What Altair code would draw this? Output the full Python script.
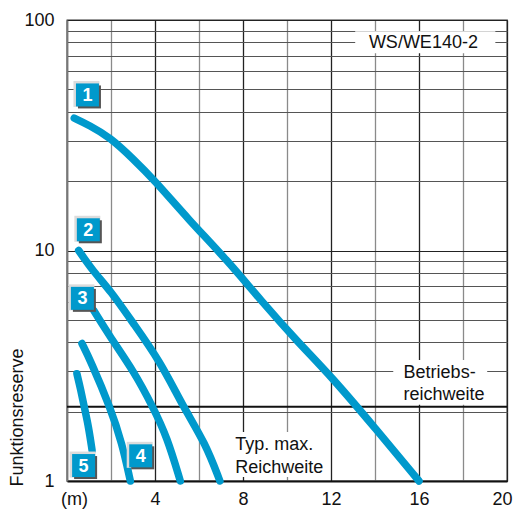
import altair as alt
import pandas as pd

# ---- curve data (x in m, y = Funktionsreserve) ----
c1_x = [0.33, 1.0, 1.95, 3.0, 3.97, 5.5, 7.29, 8.79, 10.5, 12.0, 14.0, 16.0]
c1_y = [37.5, 35.0, 31.0, 25.0, 20.2, 13.7, 9.06, 6.1, 4.0, 2.85, 1.7, 1.0]
c2_x = [0.53, 1.2, 1.97, 3.0, 4.24, 5.3, 6.29, 6.95]
c2_y = [10.0, 8.1, 6.7, 4.85, 3.3, 2.08, 1.46, 1.0]
c3_x = [1.21, 1.97, 3.03, 3.9, 4.55, 5.15]
c3_y = [5.5, 4.2, 3.0, 2.1, 1.55, 1.0]
c4_x = [0.68, 1.06, 1.97, 2.5, 2.88]
c4_y = [3.95, 3.34, 2.08, 1.46, 1.0]
c5_x = [0.45, 0.62, 0.79, 0.98, 1.14]
c5_y = [2.92, 2.5, 2.08, 1.72, 1.36]

badge_ids = ["1", "2", "3", "4", "5"]
badge_x = [0.93, 0.97, 0.70, 3.35, 0.755]
badge_y = [47.3, 12.3, 6.2, 1.286, 1.167]

x_ticks = [0, 2, 4, 6, 8, 10, 12, 14, 16, 18, 20]
y_ticks = [1, 2, 3, 4, 5, 6, 7, 8, 9, 10, 20, 30, 40, 50, 60, 70, 80, 90, 100]

operating_level = [2.1]

label_texts = ["WS/WE140-2", "Betriebs-", "reichweite", "Typ. max.", "Reichweite"]
label_x = [16.2, 15.3, 15.3, 7.65, 7.65]
label_y = [79.2, 2.94, 2.36, 1.43, 1.14]
label_align = ["center", "left", "left", "left", "left"]

box_x1 = [13.1, 14.83, 7.52]
box_x2 = [19.47, 19.1, 11.74]
box_y1 = [89.4, 3.35, 1.63]
box_y2 = [71.7, 2.14, 1.04]

BLUE = "#0099cc"
FONT = "Liberation Sans"

rows = []
for cid, xs, ys in [("1", c1_x, c1_y), ("2", c2_x, c2_y), ("3", c3_x, c3_y),
                    ("4", c4_x, c4_y), ("5", c5_x, c5_y)]:
    for i, (a, b) in enumerate(zip(xs, ys)):
        rows.append({"curve": cid, "x": a, "y": b, "ord": i})
curves = pd.DataFrame(rows)

badges = pd.DataFrame({"id": badge_ids, "x": badge_x, "y": badge_y})
labels = pd.DataFrame({"t": label_texts, "x": label_x, "y": label_y, "al": label_align})
boxes = pd.DataFrame({"x": box_x1, "x2": box_x2, "y": box_y1, "y2": box_y2})
oplev = pd.DataFrame({"y": operating_level})

xscale = alt.Scale(domain=[0, 20], nice=False, zero=False)
yscale = alt.Scale(type="log", domain=[1, 100], nice=False)

xaxis = alt.Axis(
    values=x_ticks, grid=True, ticks=False, title=None,
    gridColor=alt.condition("datum.value % 4 === 0", alt.value("#222222"), alt.value("#8a8a8a")),
    gridWidth=1.3,
    labelExpr="datum.value === 0 ? '(m)' : (datum.value % 4 === 0 ? datum.label : '')",
    labelOffset={"condition": [{"test": "datum.value === 0", "value": 7},
                               {"test": "datum.value === 20", "value": -5}],
                 "value": 0},
    labelFont=FONT, labelFontSize=18, labelColor="#111111", labelPadding=9,
    domainColor="#111111", domainWidth=2.2, labelFlush=False, labelOverlap=False,
)
yaxis = alt.Axis(
    values=y_ticks, grid=True, ticks=False,
    gridColor=alt.condition("datum.value === 1 || datum.value === 10 || datum.value === 100",
                            alt.value("#222222"), alt.value("#555555")),
    gridWidth=1.2,
    labelExpr="(datum.value === 1 || datum.value === 10 || datum.value === 100) ? datum.label : ''",
    labelFont=FONT, labelFontSize=18, labelColor="#111111", labelPadding=13,
    domainColor="#777777", domainWidth=1.5, labelOverlap=False,
    title="Funktionsreserve", titleFont=FONT, titleFontSize=18, titleFontWeight="normal",
    titleColor="#111111", titleX=-49.5, titleY=397, titleAngle=270,
    titleAlign="center", titleBaseline="middle",
)

curve_layer = alt.Chart(curves).mark_line(
    strokeWidth=7.5, strokeCap="round", strokeJoin="round", interpolate="basis", color=BLUE
).encode(
    x=alt.X("x:Q", scale=xscale, axis=xaxis),
    y=alt.Y("y:Q", scale=yscale, axis=yaxis),
    detail="curve:N",
    order="ord:Q",
)

box_layer = alt.Chart(boxes).mark_rect(color="white").encode(
    x=alt.X("x:Q", scale=xscale), x2="x2:Q",
    y=alt.Y("y:Q", scale=yscale), y2="y2:Q",
)

op_layer = alt.Chart(oplev).mark_rule(color="#111111", strokeWidth=2).encode(
    y=alt.Y("y:Q", scale=yscale)
)

bx = alt.X("x:Q", scale=xscale)
by = alt.Y("y:Q", scale=yscale)
badge_light = alt.Chart(badges).mark_square(
    size=26 * 26, color="#dcdcdc", opacity=1, xOffset=-1, yOffset=-1
).encode(x=bx, y=by)
badge_shadow = alt.Chart(badges).mark_square(
    size=23 * 23, color="#555555", opacity=1, xOffset=2, yOffset=2
).encode(x=bx, y=by)
badge_blue = alt.Chart(badges).mark_square(
    size=23 * 23, color=BLUE, opacity=1
).encode(x=bx, y=by)
badge_text = alt.Chart(badges).mark_text(
    font=FONT, fontSize=18, fontWeight="bold", color="white", baseline="middle", align="center", dy=1
).encode(x=bx, y=by, text="id:N")

label_layer_c = alt.Chart(labels).transform_filter("datum.al === 'center'").mark_text(
    font=FONT, fontSize=18, color="#111111", align="center", baseline="middle"
).encode(x=bx, y=by, text="t:N")
label_layer_l = alt.Chart(labels).transform_filter("datum.al === 'left'").mark_text(
    font=FONT, fontSize=18, color="#111111", align="left", baseline="middle"
).encode(x=bx, y=by, text="t:N")

chart = alt.layer(
    box_layer, op_layer, curve_layer, badge_light, badge_shadow, badge_blue, badge_text,
    label_layer_c, label_layer_l
).properties(
    width=440, height=461,
    autosize=alt.AutoSizeParams(type="none"),
    padding={"left": 59, "top": 12, "right": 6, "bottom": 28},
).configure_view(stroke="#333333", strokeWidth=1.3)

chart.save("out.html", embed_options={"renderer": "svg", "actions": False})
